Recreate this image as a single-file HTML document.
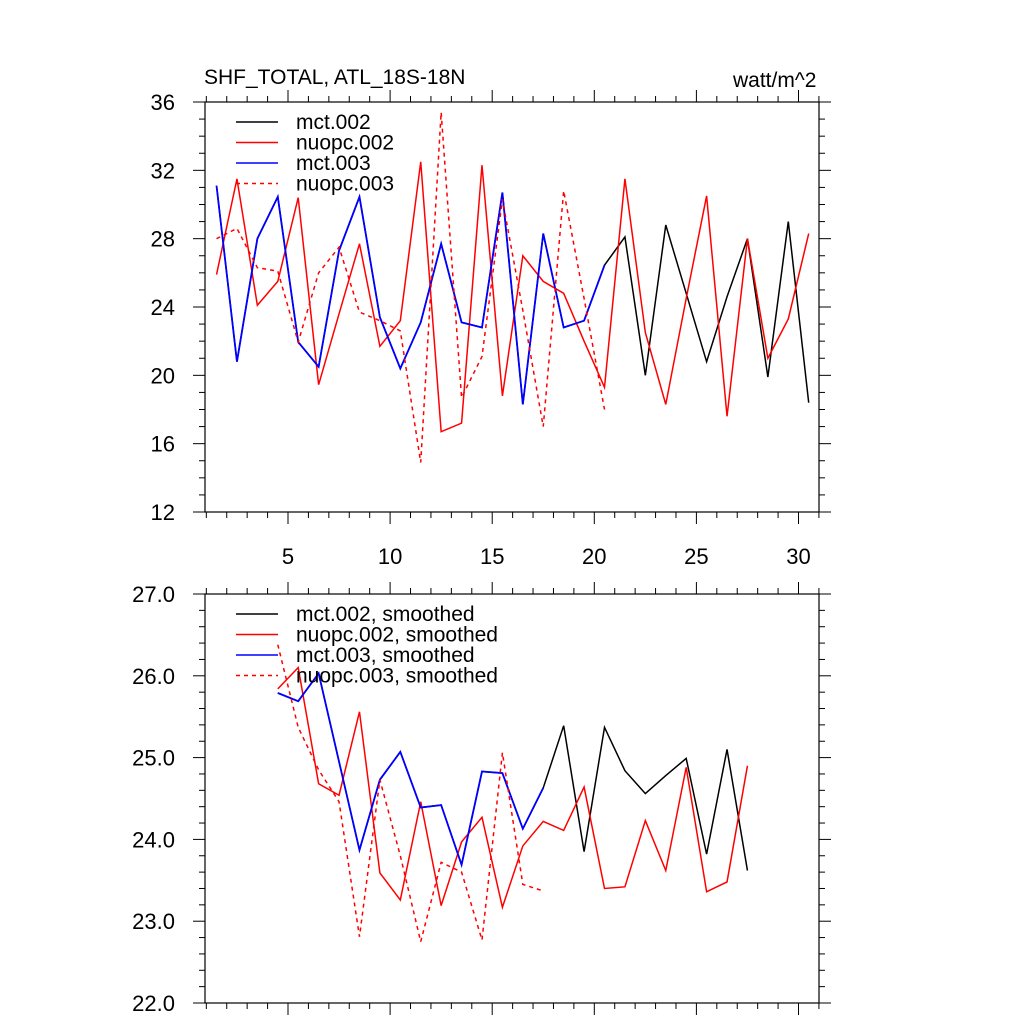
<!DOCTYPE html>
<html><head><meta charset="utf-8"><style>
body{margin:0;background:#fff;}
svg{display:block;font-family:"Liberation Sans",sans-serif;}
</style></head><body>
<svg id="chart" width="1024" height="1024" xmlns="http://www.w3.org/2000/svg">
<text x="204" y="84" font-size="21">SHF_TOTAL, ATL_18S-18N</text>
<text x="733" y="87" font-size="21">watt/m^2</text>
<g id="topPanel"></g>
<g id="botPanel"></g>
</svg>
<script>
// ---- data ----
const xTop = [1.5,2.5,3.5,4.5,5.5,6.5,7.5,8.5,9.5,10.5,11.5,12.5,13.5,14.5,15.5,16.5,17.5,18.5,19.5,20.5,21.5,22.5,23.5,24.5,25.5,26.5,27.5,28.5,29.5,30.5];
const mct002 = [31.1,20.8,28,30.45,21.95,20.5,27.3,30.45,23.4,20.4,23.1,27.7,23.1,22.8,30.7,18.3,28.3,22.8,23.2,26.45,28.1,20,28.8,24.8,20.8,24.6,28,19.9,29,18.4];
const nuopc002 = [25.9,31.5,24.1,25.5,30.4,19.45,23.6,27.7,21.7,23.2,32.5,16.7,17.2,32.3,18.8,27,25.5,24.8,22,19.3,31.5,22.5,18.3,24.5,30.5,17.6,28,21,23.3,28.3];
const mct003 = [31.1,20.8,28,30.45,21.95,20.5,27.3,30.45,23.4,20.4,23.1,27.7,23.1,22.8,30.7,18.3,28.3,22.8,23.2,26.45];
const nuopc003 = [28,28.6,26.3,26.1,21.95,26,27.5,23.7,23.2,22.6,14.9,35.4,18.7,21.1,30.3,23.8,17,30.8,24.5,18];
const xBot = [4.5,5.5,6.5,7.5,8.5,9.5,10.5,11.5,12.5,13.5,14.5,15.5,16.5,17.5,18.5,19.5,20.5,21.5,22.5,23.5,24.5,25.5,26.5,27.5];
const mct002s = [25.79,25.69,26.03,24.95,23.87,24.73,25.07,24.39,24.42,23.69,24.83,24.81,24.13,24.63,25.39,23.85,25.37,24.84,24.56,24.78,24.99,23.82,25.1,23.62];
const nuopc002s = [25.84,26.1,24.68,24.54,25.56,23.59,23.26,24.46,23.19,23.97,24.27,23.17,23.92,24.22,24.11,24.64,23.4,23.42,24.23,23.62,24.88,23.36,23.48,24.9];
const mct003s = [25.79,25.69,26.03,24.95,23.87,24.73,25.07,24.39,24.42,23.69,24.83,24.81,24.13,24.63];
const nuopc003s = [26.38,25.37,24.85,24.46,22.81,24.73,23.8,22.75,23.72,23.6,22.77,25.06,23.45,23.37];
const topYTicks = [12,16,20,24,28,32,36];
const topYLabels = ["12","16","20","24","28","32","36"];
const botYTicks = [22,23,24,25,26,27];
const botYLabels = ["22.0","23.0","24.0","25.0","26.0","27.0"];
const xTicks = [5,10,15,20,25,30];
const xLabels = ["5","10","15","20","25","30"];

const NS="http://www.w3.org/2000/svg";
function mk(p,t,a){const e=document.createElementNS(NS,t);for(const k in a)e.setAttribute(k,a[k]);p.appendChild(e);return e;}
const L=205,R=819;
const xs=v=>288+(v-5)*20.42;

function panel(g,T,B,ymin,ymax,yt,yl,minorStep,showX,series,legend){
  const ys=v=>B-(v-ymin)/(ymax-ymin)*(B-T);
  const ax=mk(g,'rect',{x:L,y:T,width:R-L,height:B-T,fill:'none',stroke:'#000','stroke-width':1.2});
  
  
  const n=Math.round((ymax-ymin)/minorStep);
  for(let k=0;k<=n;k++){
    const v=ymin+k*minorStep;
    const y=ys(v);
    const major=yt.some(t=>Math.abs(t-v)<1e-6);
    const len=major?12:6;
    mk(g,'line',{x1:L-len,y1:y,x2:L,y2:y,stroke:'#000','stroke-width':1});
    mk(g,'line',{x1:R,y1:y,x2:R+len,y2:y,stroke:'#000','stroke-width':1});
  }
  yt.forEach((v,i)=>{
    const t=mk(g,'text',{x:L-30,y:ys(v)+8,'font-size':22,'text-anchor':'end'});
    t.textContent=yl[i];
    
    
  });
  for(let v=1;v<=31;v++){
    const x=xs(v);
    if(x<L-1||x>R+1) continue;
    const major=v%5===0;const len=major?12:6;
    mk(g,'line',{x1:x,y1:B,x2:x,y2:B+len,stroke:'#000','stroke-width':1});
    mk(g,'line',{x1:x,y1:T-len,x2:x,y2:T,stroke:'#000','stroke-width':1});
  }
  if(showX) xTicks.forEach((v,i)=>{
    const t=mk(g,'text',{x:xs(v),y:B+52,'font-size':22,'text-anchor':'middle'});
    t.textContent=xLabels[i];
    
    
  });
  series.forEach(s=>{
    const pts=s.y.map((v,i)=>xs(s.x[i])+','+ys(v)).join(' ');
    const p=mk(g,'polyline',{points:pts,fill:'none',stroke:s.c,'stroke-width':s.w||1.5,'stroke-dasharray':s.d||'none'});
    
    
  });
  legend.forEach((s,i)=>{
    const y=T+20+i*20.5;
    const ln=mk(g,'line',{x1:236,y1:y,x2:278,y2:y,stroke:s.c,'stroke-width':1.5,'stroke-dasharray':s.d||'none'});
    
    
    const t=mk(g,'text',{x:296,y:y+7,'font-size':21});
    t.textContent=s.label;
    
    
  });
}
const topG=document.getElementById('topPanel'), botG=document.getElementById('botPanel');
panel(topG,102,512,12,36,topYTicks,topYLabels,1,true,[
 {x:xTop,y:mct002,c:'#000',name:'line-mct002'},
 {x:xTop,y:nuopc002,c:'#f00',name:'line-nuopc002'},
 {x:xTop,y:mct003,c:'#00f',w:1.8,name:'line-mct003'},
 {x:xTop,y:nuopc003,c:'#f00',d:'4,4',name:'line-nuopc003'}],
 [{c:'#000',label:'mct.002'},{c:'#f00',label:'nuopc.002'},{c:'#00f',label:'mct.003'},{c:'#f00',d:'4,4',label:'nuopc.003'}]);
panel(botG,594,1003,22,27,botYTicks,botYLabels,0.2,false,[
 {x:xBot,y:mct002s,c:'#000',name:'line-mct002-smoothed'},
 {x:xBot,y:nuopc002s,c:'#f00',name:'line-nuopc002-smoothed'},
 {x:xBot,y:mct003s,c:'#00f',w:1.8,name:'line-mct003-smoothed'},
 {x:xBot,y:nuopc003s,c:'#f00',d:'4,4',name:'line-nuopc003-smoothed'}],
 [{c:'#000',label:'mct.002, smoothed'},{c:'#f00',label:'nuopc.002, smoothed'},{c:'#00f',label:'mct.003, smoothed'},{c:'#f00',d:'4,4',label:'nuopc.003, smoothed'}]);
</script>
</body></html>
